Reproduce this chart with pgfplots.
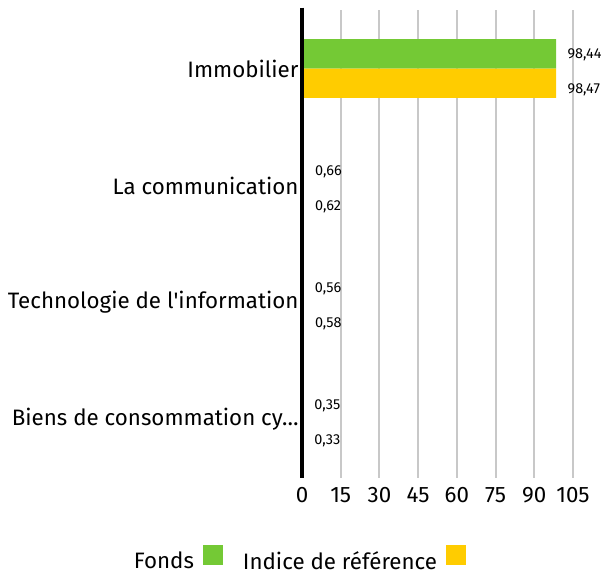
\documentclass[border=0pt]{standalone}
\usepackage{pgfplots}
\pgfplotsset{compat=1.18}
\usepackage{fontspec}
\setmainfont{Fira Sans}
\definecolor{fondsgreen}{HTML}{74C935}
\definecolor{indyellow}{HTML}{FFCC00}
\definecolor{gridgray}{HTML}{C8C8C8}
\begin{document}
\begin{tikzpicture}
\begin{axis}[
  scale only axis, width=271bp, height=468bp,
  xmin=0, xmax=105, ymin=-0.5, ymax=3.5, y dir=reverse,
  xbar, bar width=0.252,
  xtick={0,15,...,105},
  ytick={0,1,2,3},
  yticklabels={Immobilier, La communication, Technologie de l\textquotesingle information, Biens de consommation cy…},
  axis line style={draw=none},
  xmajorgrids, grid style={gridgray, line width=2bp},
  major tick length=0pt, tick style={draw=none},
  ticklabel style={font=\fontsize{22.4}{26}\selectfont},
  xticklabel style={yshift=-6bp},
  /pgf/number format/assume math mode=true,
  clip=false,
  nodes near coords={\pgfmathprintnumber[fixed, fixed zerofill, precision=2, use comma, assume math mode=true]{\pgfplotspointmeta}},
  nodes near coords style={font=\fontsize{14.5}{17}\selectfont, anchor=west, xshift=8bp, black},
  legend style={at={(-0.011,-0.173)}, anchor=center, draw=none, fill=none, legend columns=2,
    font=\fontsize{22.4}{26}\selectfont,
    /tikz/every odd column/.append style={column sep=7bp},
    /tikz/every even column/.append style={column sep=18bp}},
  legend plot pos=right,
  legend image code/.code={\fill[#1] (0bp,-4bp) rectangle (20bp,16bp);},
]
\addplot[fill=fondsgreen, draw=none, bar shift=-0.126,
  every node near coord/.append style={yshift=-1bp}] coordinates {(98.44,0) (0.66,1) (0.56,2) (0.35,3)};
\addlegendentry{Fonds}
\addplot[fill=indyellow, draw=none, bar shift=0.126,
  every node near coord/.append style={yshift=-6.5bp}] coordinates {(98.47,0) (0.62,1) (0.58,2) (0.33,3)};
\addlegendentry{Indice de référence}
\draw[black, line width=3.5bp] (axis cs:0,-0.52) -- (axis cs:0,3.5);
\path (rel axis cs:0,0) ++(-302bp,-95bp);
\path (rel axis cs:0,1) ++(304bp,10bp);
\end{axis}
\end{tikzpicture}
\end{document}
